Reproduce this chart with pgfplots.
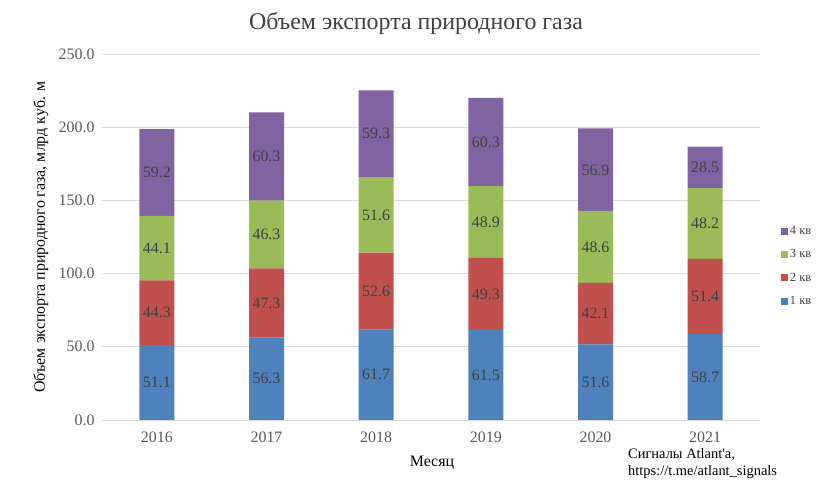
\documentclass[border=0pt]{standalone}
\usepackage{fontspec}
\setmainfont{Liberation Serif}[Ligatures=TeXOff]
\usepackage{pgfplots}
\usepackage{pgfplotstable}
\pgfplotsset{compat=1.18}
\definecolor{c1}{HTML}{4F81BD}
\definecolor{c2}{HTML}{C0504D}
\definecolor{c3}{HTML}{9BBB59}
\definecolor{c4}{HTML}{8064A2}
\definecolor{gridgray}{HTML}{D9D9D9}
\definecolor{lab}{HTML}{404040}
\definecolor{tick}{HTML}{595959}
\pgfplotstableread{
x q1 q2 q3 q4
0 51.1 44.3 44.1 59.2
1 56.3 47.3 46.3 60.3
2 61.7 52.6 51.6 59.3
3 61.5 49.3 48.9 60.3
4 51.6 42.1 48.6 56.9
5 58.7 51.4 48.2 28.5
}\data
\begin{document}
\begin{tikzpicture}
\path (0bp,0bp) rectangle (829bp,495bp);
\begin{axis}[
  at={(102bp,75bp)}, anchor=south west,
  scale only axis, width=658bp, height=366bp,
  ybar stacked, bar width=35bp,
  xmin=-0.5, xmax=5.5, ymin=0, ymax=250,
  xtick={0,...,5}, xticklabels={2016,2017,2018,2019,2020,2021},
  ytick={0,50,...,250},
  ymajorgrids, grid style={draw=gridgray, line width=0.8pt},
  axis line style={draw=none},
  major tick length=0pt,
  tick label style={font=\fontsize{16}{18}\selectfont, text=tick},
  /pgf/number format/assume math mode=true,
  yticklabel style={/pgf/number format/fixed, /pgf/number format/fixed zerofill, /pgf/number format/precision=1, xshift=-4bp},
  xticklabel style={yshift=-8bp},
  reverse legend,
  legend style={at={(1.027,0.54)}, anchor=north west, draw=none, fill=none,
    font=\fontsize{12.5}{14}\selectfont, text=lab, row sep=9.5bp},
  legend image code/.code={\fill[#1] (0bp,-3.5bp) rectangle (7bp,3.5bp);},
]
\addplot+[fill=c1, draw=none] table[x=x,y=q1]{\data};
\addlegendentry{1 кв}
\addplot+[fill=c2, draw=none] table[x=x,y=q2]{\data};
\addlegendentry{2 кв}
\addplot+[fill=c3, draw=none] table[x=x,y=q3]{\data};
\addlegendentry{3 кв}
\addplot+[fill=c4, draw=none] table[x=x,y=q4]{\data};
\addlegendentry{4 кв}
\end{axis}
\begin{axis}[
  at={(102bp,75bp)}, anchor=south west,
  scale only axis, width=658bp, height=366bp,
  xmin=-0.5, xmax=5.5, ymin=0, ymax=250,
  hide axis,
  point meta=explicit symbolic,
  nodes near coords={\pgfplotspointmeta},
  every node near coord/.append style={font=\fontsize{16}{18}\selectfont, text=lab, anchor=center},
]
\addplot[draw=none, mark=none, nodes near coords] table[x=x, y expr={\thisrow{q1}/2}, meta=q1]{\data};
\addplot[draw=none, mark=none, nodes near coords] table[x=x, y expr={\thisrow{q1}+\thisrow{q2}/2}, meta=q2]{\data};
\addplot[draw=none, mark=none, nodes near coords] table[x=x, y expr={\thisrow{q1}+\thisrow{q2}+\thisrow{q3}/2}, meta=q3]{\data};
\addplot[draw=none, mark=none, nodes near coords] table[x=x, y expr={\thisrow{q1}+\thisrow{q2}+\thisrow{q3}+\thisrow{q4}/2}, meta=q4]{\data};
\end{axis}
\node[font=\fontsize{24}{28}\selectfont, text=lab] at (416bp,472bp) {Объем экспорта природного газа};
\node[font=\fontsize{16}{18}\selectfont, rotate=90] at (41bp,258bp) {Объем экспорта природного газа, млрд куб. м};
\node[font=\fontsize{16}{18}\selectfont] at (432bp,32bp) {Месяц};
\node[font=\fontsize{14.5}{16}\selectfont, anchor=base west, inner sep=0pt] at (628bp,37bp) {Сигналы Atlant'a,};
\node[font=\fontsize{14.5}{16}\selectfont, anchor=base west, inner sep=0pt] at (628bp,20bp) {https://t.me/atlant\_signals};
\end{tikzpicture}
\end{document}
